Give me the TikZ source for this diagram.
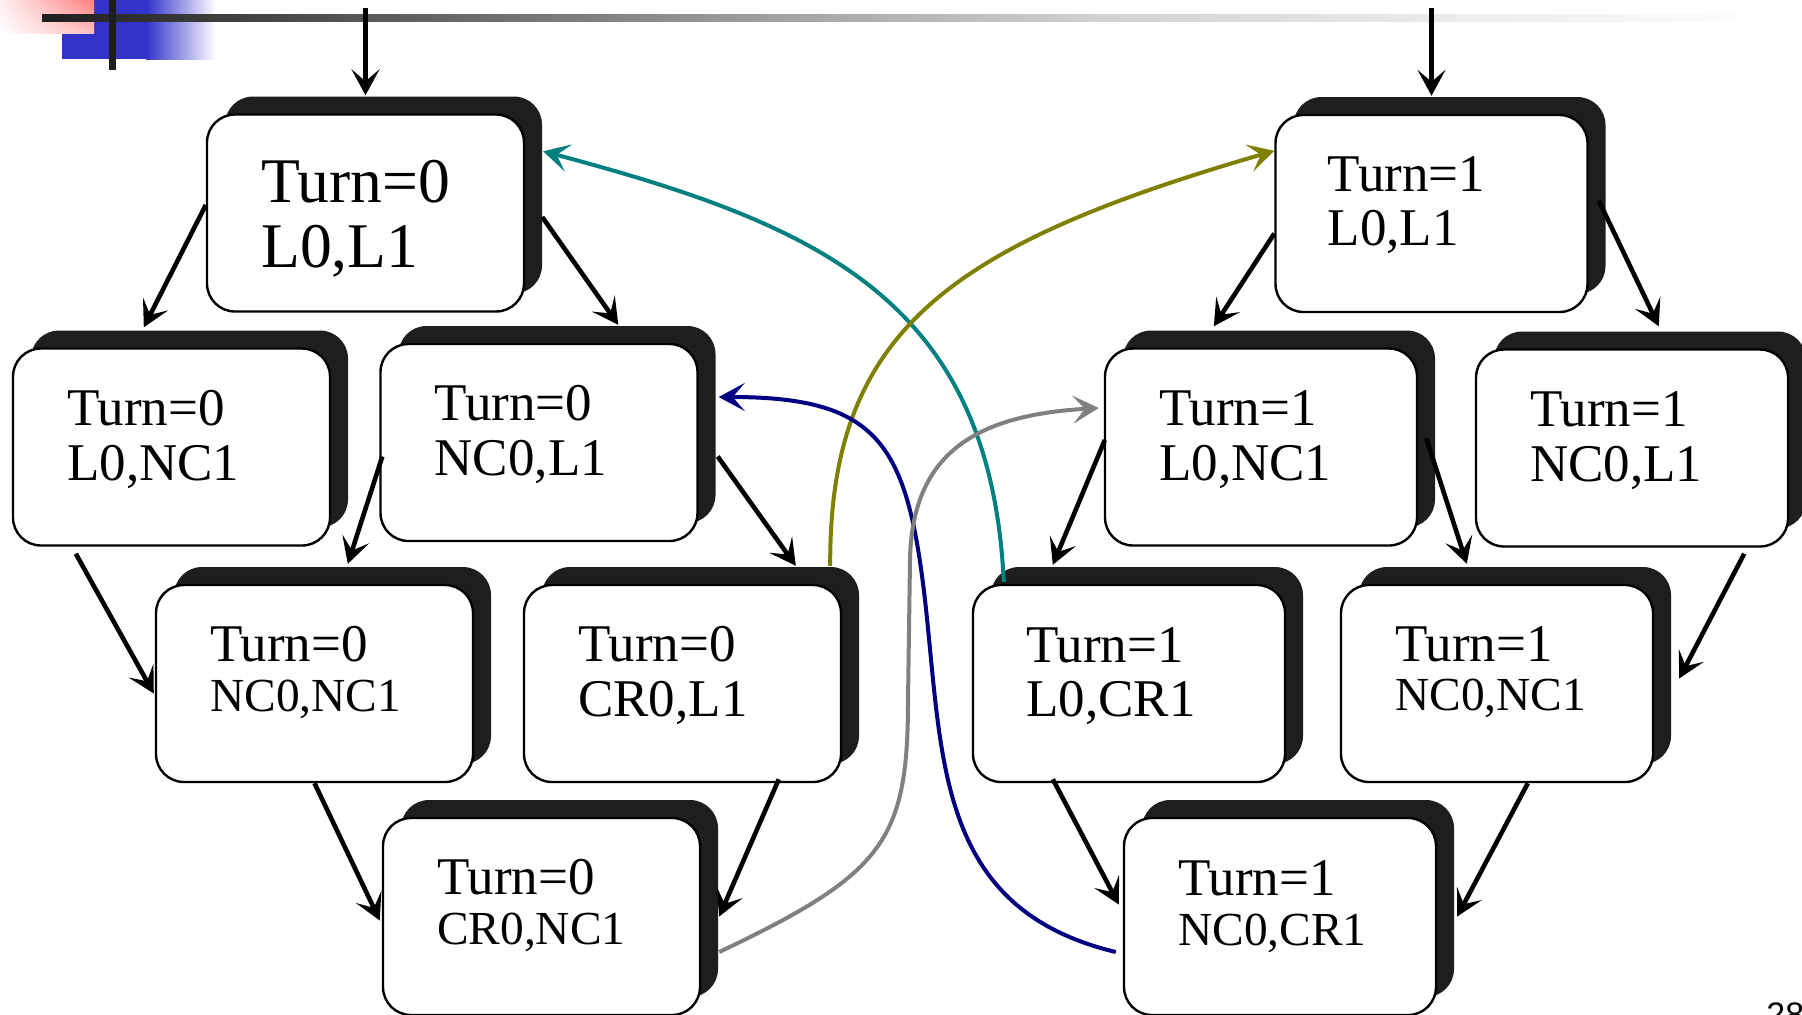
\documentclass[tikz,border=0pt]{standalone}
\usepackage{fontspec}
\setmainfont{Liberation Serif}
\newfontfamily\pagenumfont{Liberation Sans}
\usetikzlibrary{shadows,shadings,calc,arrows.meta}

\definecolor{shadowgray}{RGB}{30,30,30}
\definecolor{tealline}{RGB}{0,128,128}
\definecolor{oliveline}{RGB}{128,128,0}
\definecolor{navyline}{RGB}{0,0,128}
\definecolor{grayline}{RGB}{128,128,128}
\definecolor{blueblock}{RGB}{51,51,204}
\definecolor{pinkblock}{RGB}{255,128,128}
\definecolor{barA}{gray}{0.12}
\definecolor{barB}{gray}{0.37}
\definecolor{barC}{gray}{0.65}
\definecolor{barD}{gray}{0.82}
\definecolor{barE}{gray}{0.92}

\tikzset{
  statebox/.style={draw=black, line width=1.2pt, fill=white, rounded corners=14pt,
    minimum height=98.5pt, inner sep=0pt,
    drop shadow={shadow xshift=9pt, shadow yshift=9pt, fill=shadowgray, opacity=1}},
  lbox/.style={statebox, minimum width=158.5pt},
  rbox/.style={statebox, minimum width=156pt},
  txtbig/.style={anchor=base west, inner sep=0pt, font=\fontsize{31.8}{36}\selectfont},
  txt/.style={anchor=base west, inner sep=0pt, font=\fontsize{26.5}{30}\selectfont},
  txtsm/.style={anchor=base west, inner sep=0pt, font=\fontsize{23.7}{28}\selectfont},
  arr/.style={-{Stealth[length=13pt,width=14pt,inset=6pt]}, line width=2.3pt, draw=black},
  carr/.style={-{Stealth[length=13pt,width=14pt,inset=6pt]}, line width=2pt},
}

\begin{document}
\begin{tikzpicture}[x=0.5pt, y=-0.5pt]
\useasboundingbox (0,0) rectangle (1802,1014);
\clip (0,0) rectangle (1802,1014);

% header ornament
\fill[blueblock] (62,0) rectangle (146,59);
\shade[left color=blueblock, right color=white] (146,0) rectangle (216,59);
\shade[upper right=pinkblock, upper left=red!6, lower right=red!25, lower left=white] (0,0) rectangle (94,33);
\shade[left color=barA, right color=barB] (42,14) rectangle (400,21);
\shade[left color=barB, right color=barC] (399,14) rectangle (800,21);
\shade[left color=barC, right color=barD] (799,14) rectangle (1100,21);
\shade[left color=barD, right color=barE] (1099,14) rectangle (1440,21);
\shade[left color=barE, right color=white] (1439,14) rectangle (1780,21);
\fill[shadowgray] (109,0) rectangle (116,70);

% Turn = 0 states
\node[lbox] (A) at (365.5,213) {};
\node[txtbig] (A1) at ($(A.north west)+(55,89)$) {Turn=0};
\node[txtbig] (A2) at ($(A.north west)+(55,154)$) {L0,L1};

\node[lbox] (B) at (171.5,447) {};
\node[txt] (B1) at ($(B.north west)+(55,78)$) {Turn=0};
\node[txt] (B2) at ($(B.north west)+(55,133)$) {L0,NC1};

\node[lbox] (C) at (539,442.5) {};
\node[txt] (C1) at ($(C.north west)+(55,78)$) {Turn=0};
\node[txt] (C2) at ($(C.north west)+(55,133)$) {NC0,L1};

\node[lbox] (D) at (314.5,683.5) {};
\node[txt] (D1) at ($(D.north west)+(55,78)$) {Turn=0};
\node[txtsm] (D2) at ($(D.north west)+(55,128)$) {NC0,NC1};

\node[lbox] (E) at (682.5,683.5) {};
\node[txt] (E1) at ($(E.north west)+(55,78)$) {Turn=0};
\node[txt] (E2) at ($(E.north west)+(55,133)$) {CR0,L1};

\node[lbox] (F) at (541.5,916.5) {};
\node[txt] (F1) at ($(F.north west)+(55,78)$) {Turn=0};
\node[txtsm] (F2) at ($(F.north west)+(55,128)$) {CR0,NC1};

% Turn = 1 states
\node[rbox] (G) at (1431.5,213.5) {};
\node[txt] (G1) at ($(G.north west)+(53,78)$) {Turn=1};
\node[txt] (G2) at ($(G.north west)+(53,132)$) {L0,L1};

\node[rbox] (H) at (1261,447) {};
\node[txt] (H1) at ($(H.north west)+(55,78)$) {Turn=1};
\node[txt] (H2) at ($(H.north west)+(55,133)$) {L0,NC1};

\node[rbox] (I) at (1632,448) {};
\node[txt] (I1) at ($(I.north west)+(55,78)$) {Turn=1};
\node[txt] (I2) at ($(I.north west)+(55,133)$) {NC0,L1};

\node[rbox] (J) at (1129,683.5) {};
\node[txt] (J1) at ($(J.north west)+(54,79)$) {Turn=1};
\node[txt] (J2) at ($(J.north west)+(54,133)$) {L0,CR1};

\node[rbox] (K) at (1497,683.5) {};
\node[txt] (K1) at ($(K.north west)+(55,78)$) {Turn=1};
\node[txtsm] (K2) at ($(K.north west)+(55,127)$) {NC0,NC1};

\node[rbox] (L) at (1280,916.5) {};
\node[txt] (L1) at ($(L.north west)+(55,79)$) {Turn=1};
\node[txtsm] (L2) at ($(L.north west)+(55,129)$) {NC0,CR1};

% initial-state entries
\coordinate (inA) at (365.5,8);
\coordinate (inG) at (1431.5,8);
\draw[arr] (inA) -- ($(A.north)+(0,-18)$);
\draw[arr] (inG) -- ($(G.north)+(0,-18)$);

% transitions, Turn = 0
\draw[arr] ($(A.west)+(0,-8)$) -- ($(B.north west)+(132,-20)$);
\draw[arr] ($(A.east)+(17,4)$) -- ($(C.north west)+(239,-18)$);
\draw[arr] ($(B.south west)+(64,7)$) -- ($(D.west)+(-1,10)$);
\draw[arr] ($(C.west)+(3,14)$) -- ($(D.north west)+(193,-20)$);
\draw[arr] ($(C.east)+(19,14)$) -- ($(E.north west)+(273,-18)$);
\draw[arr] ($(D.south)+(0,0)$) -- ($(F.west)+(-2,4)$);
\draw[arr] ($(E.south west)+(256,-4)$) -- ($(F.east)+(18,0)$);

% transitions, Turn = 1
\draw[arr] ($(G.west)+(0,20)$) -- ($(H.north west)+(110,-21)$);
\draw[arr] ($(G.east)+(10,-13)$) -- ($(I.north west)+(184,-22)$);
\draw[arr] ($(H.west)+(1,-7)$) -- ($(J.north west)+(81,-19)$);
\draw[arr] ($(H.east)+(8,-9)$) -- ($(K.north west)+(127,-20)$);
\draw[arr] ($(I.south east)+(-45,6)$) -- ($(K.east)+(25,-5)$);
\draw[arr] ($(J.south west)+(81,-4)$) -- ($(L.west)+(-4,-12)$);
\draw[arr] ($(K.south west)+(188,0)$) -- ($(L.east)+(20,0)$);

% exits from the critical regions
\draw[carr, tealline] ($(J.north west)+(32,-2)$) .. controls (990,300) and (820,225) .. ($(A.north east)+(18,38)$);
\draw[carr, oliveline] ($(E.north east)+(-12,-18)$) .. controls (829,330) and (950,245) .. ($(G.north west)+(0,37)$);
\draw[carr, navyline] ($(L.west)+(-7,35.5)$) .. controls (936,909) and (943,760) .. (925,600)
  .. controls (907,444) and (879,397) .. ($(C.east)+(20,-45.5)$);
\draw[carr, grayline] ($(F.east)+(18,35.5)$) .. controls (883,874) and (908,842) .. (908,700)
  -- (910,560) .. controls (912,450) and (980,415) .. ($(H.west)+(-5,-39)$);

% page number
\node[anchor=base west, inner sep=0pt, font=\pagenumfont\fontsize{17}{20}\selectfont] (pagenum) at (1766,1026) {28};
\end{tikzpicture}
\end{document}
